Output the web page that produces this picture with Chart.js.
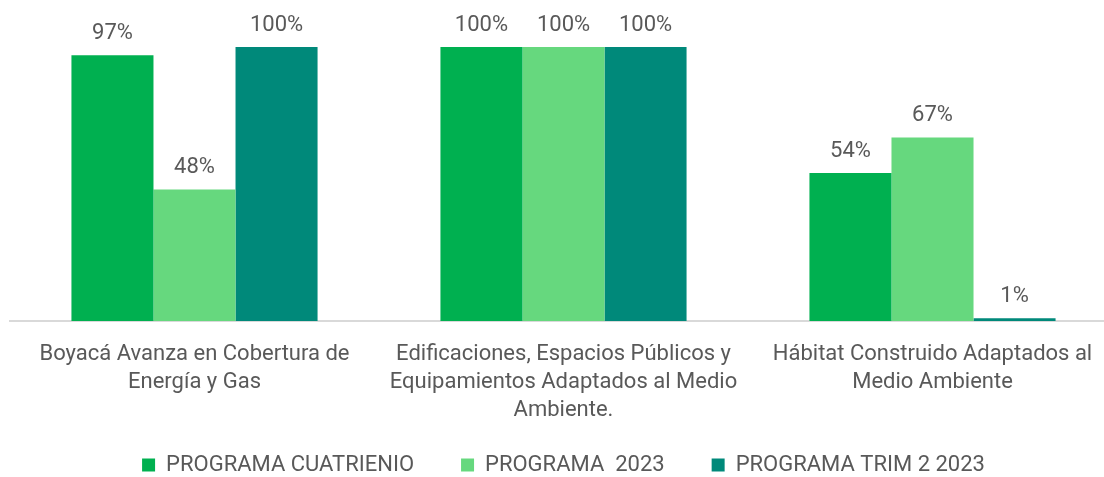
<!DOCTYPE html>
<html>
<head>
<meta charset="utf-8">
<script src="https://cdn.jsdelivr.net/npm/chart.js@4/dist/chart.umd.min.js"></script>
<style>
    html, body { margin: 0; padding: 0; background: #fff; overflow: hidden; }
    #wrap { width: 1117px; height: 477px; }
</style>
</head>
<body>
<div id="wrap"><canvas id="bar-canvas"></canvas></div>
<script>
const categories = [
    ["Boyacá Avanza en Cobertura de", "Energía y Gas"],
    ["Edificaciones, Espacios Públicos y", "Equipamientos Adaptados al Medio", "Ambiente."],
    ["Hábitat Construido Adaptados al", "Medio Ambiente"],
];
const cuatrienio = [97, 100, 54];
const anio2023 = [48, 100, 67];
const trim2 = [100, 100, 1];
const seriesNames = ["PROGRAMA CUATRIENIO", "PROGRAMA  2023", "PROGRAMA TRIM 2 2023"];

const textColor = "#595959";
const fontFamily = "Roboto, 'Noto Sans', sans-serif";

// percentages above each bar
const valueLabels = {
    id: "valueLabels",
    afterLayout(chart) {
        // legend row sits lower than its box, keep the wide item gaps
        chart.legend.top = 407;
    },
    afterDatasetsDraw(chart) {
        const ctx = chart.ctx;
        ctx.save();
        ctx.font = "22px " + fontFamily;
        ctx.fillStyle = textColor;
        ctx.textAlign = "center";
        ctx.textBaseline = "alphabetic";
        chart.data.datasets.forEach((ds, i) => {
            chart.getDatasetMeta(i).data.forEach((bar, j) => {
                ctx.fillText(ds.data[j] + "%", bar.x, bar.y - 16);
            });
        });
        ctx.restore();
    },
};

const data = {
    labels: categories,
    datasets: [
        {
            label: seriesNames[0],
            data: cuatrienio,
            backgroundColor: "#00B050",
        },
        {
            label: seriesNames[1],
            data: anio2023,
            backgroundColor: "#66D87E",
        },
        {
            label: seriesNames[2],
            data: trim2,
            backgroundColor: "#00897A",
        },
    ],
};

const config = {
    type: "bar",
    data: data,
    plugins: [valueLabels],
    options: {
        responsive: true,
        maintainAspectRatio: false,
        animation: false,
        datasets: {
            bar: {
                categoryPercentage: 0.667,
                barPercentage: 1,
            },
        },
        layout: {
            padding: { top: 47, left: 10, right: 0, bottom: 0 },
        },
        plugins: {
            legend: {
                position: "bottom",
                maxHeight: 50,
                labels: {
                    color: textColor,
                    font: { size: 22, family: fontFamily },
                    boxWidth: 13,
                    boxHeight: 13,
                    padding: 47,
                },
            },
            tooltip: { enabled: false },
        },
        scales: {
            x: {
                grid: { display: false, drawTicks: false },
                border: { color: "#D9D9D9", width: 2 },
                ticks: {
                    color: textColor,
                    font: { size: 22, family: fontFamily, lineHeight: 1.27 },
                    padding: 20,
                    maxRotation: 0,
                    autoSkip: false,
                },
                afterFit(scale) {
                    scale.height = 106;
                },
            },
            y: {
                display: false,
                min: 0,
                max: 100,
            },
        },
    },
};

new Chart(document.querySelector("#bar-canvas"), config);
</script>
</body>
</html>
